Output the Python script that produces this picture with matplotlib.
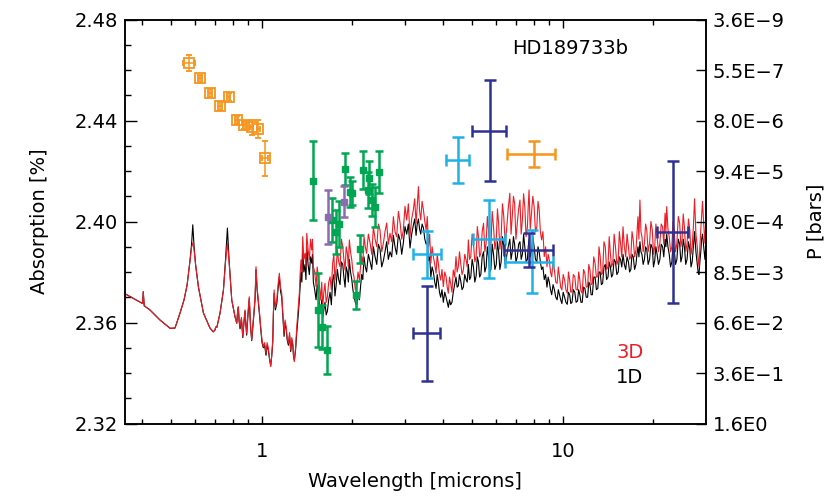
import numpy as np
import matplotlib
matplotlib.use("Agg")
import matplotlib.pyplot as plt
from matplotlib.ticker import NullFormatter

# model transmission spectra: wavelength [microns], absorption [%]
lam = [0.350, 0.374, 0.394, 0.402, 0.404, 0.407, 0.425, 0.459, 0.496, 0.515,
       0.535, 0.552, 0.565, 0.578, 0.585, 0.590, 0.596, 0.603, 0.616, 0.640,
       0.673, 0.690, 0.699, 0.703, 0.709, 0.727, 0.746, 0.758, 0.769, 0.779,
       0.795, 0.815, 0.826,
       0.831, 0.836, 0.841, 0.847, 0.856, 0.865, 0.872, 0.880, 0.885, 0.891,
       0.900, 0.909, 0.917, 0.926, 0.934, 0.943, 0.950, 0.957, 0.965, 0.974,
       0.983, 0.992, 1.002, 1.012, 1.022, 1.033, 1.042, 1.052, 1.061, 1.071,
       1.079, 1.088, 1.093, 1.099, 1.110, 1.122, 1.133, 1.144, 1.154, 1.165,
       1.175, 1.186, 1.195, 1.205, 1.215, 1.226, 1.237, 1.248, 1.258, 1.268,
       1.275, 1.283, 1.295, 1.307, 1.320, 1.333,
       1.341, 1.350, 1.359, 1.368, 1.380, 1.393, 1.402, 1.411, 1.425, 1.439,
       1.452, 1.465, 1.474, 1.484, 1.499, 1.515, 1.528, 1.542, 1.556, 1.570,
       1.582, 1.594, 1.608, 1.622, 1.637, 1.652, 1.669, 1.686, 1.703, 1.720,
       1.735, 1.751, 1.767, 1.783, 1.801, 1.820, 1.839, 1.858, 1.874, 1.891,
       1.908, 1.925, 1.939, 1.954, 1.972, 1.991, 2.008, 2.025, 2.045, 2.066,
       2.088, 2.110, 2.128, 2.147, 2.166, 2.186, 2.208, 2.230, 2.260, 2.291,
       2.320, 2.349, 2.379, 2.410, 2.440, 2.471, 2.503, 2.535, 2.567, 2.600,
       2.633, 2.667, 2.702, 2.737, 2.771, 2.806, 2.844, 2.882, 2.917,
       2.953, 2.991, 3.030, 3.069, 3.108, 3.148, 3.188, 3.221, 3.255, 3.284,
       3.314, 3.344, 3.374, 3.409, 3.444, 3.480, 3.516, 3.547, 3.579, 3.612,
       3.645, 3.680, 3.716, 3.755, 3.794, 3.826, 3.859, 3.894, 3.929, 3.969,
       4.010, 4.053, 4.096, 4.131, 4.167, 4.204, 4.241, 4.284, 4.327, 4.372,
       4.418, 4.457, 4.497, 4.538, 4.580, 4.627, 4.674, 4.723, 4.772, 4.814,
       4.857, 4.902, 4.947, 4.998, 5.049, 5.102, 5.155, 5.200, 5.245, 5.293,
       5.342, 5.398, 5.454, 5.509, 5.564, 5.614, 5.665, 5.717, 5.769, 5.828,
       5.887, 5.949, 6.012, 6.066, 6.121, 6.180, 6.239, 6.303, 6.368, 6.435,
       6.503, 6.586, 6.669, 6.731, 6.794, 6.855, 6.917, 6.988, 7.060, 7.133,
       7.206, 7.273, 7.341, 7.409, 7.477, 7.552, 7.628, 7.676, 7.724, 7.797,
       7.870, 7.950, 8.030, 8.114, 8.199, 8.272, 8.346, 8.424, 8.503, 8.590,
       8.677, 8.768, 8.860, 8.940, 9.020, 9.103, 9.186, 9.282, 9.378, 9.477,
       9.576, 9.663, 9.751, 9.840, 9.930, 10.03, 10.14, 10.24, 10.35, 10.44,
       10.54, 10.63, 10.73, 10.84, 10.96, 11.07, 11.19, 11.29, 11.39, 11.49,
       11.60, 11.72, 11.84, 11.96, 12.09, 12.20, 12.31, 12.42, 12.54, 12.67,
       12.80, 12.93, 13.07, 13.19, 13.31, 13.43, 13.56, 13.70, 13.84, 13.98,
       14.13, 14.26, 14.39, 14.52, 14.66, 14.81, 14.96, 15.12, 15.28, 15.41,
       15.55, 15.70, 15.85, 16.01, 16.18, 16.35, 16.52, 16.67, 16.83, 16.98,
       17.14, 17.32, 17.50, 17.63, 17.77, 17.90, 18.04, 18.18, 18.32, 18.49,
       18.67, 18.84, 19.01, 19.21, 19.42, 19.62, 19.83, 20.01, 20.20, 20.38,
       20.57, 20.79, 21.01, 21.23, 21.45, 21.65, 21.86, 22.00, 22.14, 22.35,
       22.57, 22.80, 23.03, 23.24, 23.45, 23.69, 23.93, 24.19, 24.45, 24.67,
       24.89, 25.12, 25.35, 25.61, 25.87, 26.14, 26.42, 26.66, 26.90, 27.15,
       27.40, 27.68, 27.97, 28.15, 28.34, 28.53, 28.73, 28.92, 29.11, 29.38,
       29.65, 29.80, 29.95]

abs_3d = [2.3715, 2.3696, 2.3681, 2.3675, 2.3722, 2.3666, 2.3650, 2.3610, 2.3577, 2.3578,
          2.3637, 2.3690, 2.3749, 2.3848, 2.3900, 2.3915, 2.3887, 2.3828, 2.3741, 2.3638,
          2.3578, 2.3563, 2.3570, 2.3582, 2.3580, 2.3638, 2.3729, 2.3839, 2.3915, 2.3839,
          2.3689, 2.3623, 2.3597,
          2.3640, 2.3663, 2.3610, 2.3583, 2.3620, 2.3544, 2.3600, 2.3650, 2.3600, 2.3557,
          2.3640, 2.3702, 2.3600, 2.3531, 2.3590, 2.3650, 2.3700, 2.3821, 2.3740, 2.3689,
          2.3640, 2.3583, 2.3530, 2.3504, 2.3520, 2.3478, 2.3520, 2.3498, 2.3460, 2.3425,
          2.3470, 2.3531, 2.3640, 2.3729, 2.3660, 2.3689, 2.3750, 2.3795, 2.3740, 2.3716,
          2.3640, 2.3557, 2.3610, 2.3583, 2.3540, 2.3518, 2.3560, 2.3491, 2.3540, 2.3518,
          2.3470, 2.3445, 2.3500, 2.3583, 2.3650, 2.3716,
          2.3790, 2.3848, 2.3800, 2.3940, 2.3850, 2.3874, 2.3820, 2.3953, 2.3890, 2.3848,
          2.3930, 2.3887, 2.3930, 2.3821, 2.3800, 2.3742, 2.3820, 2.3781, 2.3740, 2.3689,
          2.3760, 2.3663, 2.3720, 2.3755, 2.3680, 2.3702, 2.3760, 2.3781, 2.3730, 2.3834,
          2.3870, 2.3768, 2.3820, 2.3887, 2.3840, 2.3821, 2.3930, 2.3900, 2.3850, 2.3808,
          2.3900, 2.3874, 2.3820, 2.3927, 2.3880, 2.3848, 2.3800, 2.3781, 2.3730, 2.3742,
          2.3800, 2.3768, 2.3820, 2.3861, 2.3830, 2.3940, 2.3900, 2.3874, 2.3950, 2.3914,
          2.3870, 2.3979, 2.3930, 2.3900, 2.3990, 2.3966, 2.3880, 2.3914, 2.3960, 2.3994,
          2.3910, 2.3953, 2.3920, 2.4019, 2.3960, 2.3940, 2.4040, 2.3993, 2.3930,
          2.3966, 2.4060, 2.4006, 2.4070, 2.3940, 2.4010, 2.4046, 2.4090, 2.3993, 2.4060,
          2.4138, 2.4040, 2.4006, 2.4080, 2.4046, 2.4000, 2.3966, 2.4020, 2.3900, 2.3950,
          2.3835, 2.3900, 2.3861, 2.3830, 2.3795, 2.3870, 2.3835, 2.3790, 2.3768, 2.3810,
          2.3742, 2.3800, 2.3781, 2.3740, 2.3716, 2.3780, 2.3755, 2.3720, 2.3808, 2.3780,
          2.3861, 2.3800, 2.3821, 2.3880, 2.3835, 2.3790, 2.3808, 2.3870, 2.3848, 2.3820,
          2.3927, 2.3850, 2.3861, 2.3950, 2.3914, 2.3840, 2.3861, 2.3980, 2.3940, 2.3860,
          2.3874, 2.3960, 2.3993, 2.3880, 2.3914, 2.4020, 2.3966, 2.3870, 2.3900, 2.4040,
          2.3979, 2.3890, 2.3927, 2.4050, 2.3993, 2.3890, 2.3940, 2.4070, 2.4019, 2.3910,
          2.3966, 2.4050, 2.4112, 2.3950, 2.4019, 2.4100, 2.4072, 2.3930, 2.3993, 2.4050,
          2.4085, 2.3950, 2.4006, 2.4110, 2.4059, 2.3940, 2.3979, 2.4060, 2.4125, 2.3970,
          2.4033, 2.4100, 2.4059, 2.3960, 2.3979, 2.4080, 2.4046, 2.3960, 2.3927, 2.3960,
          2.3861, 2.3900, 2.3821, 2.3870, 2.3848, 2.3800, 2.3781, 2.3840, 2.3808, 2.3760,
          2.3755, 2.3820, 2.3781, 2.3740, 2.3729, 2.3790, 2.3768, 2.3730, 2.3716, 2.3800,
          2.3768, 2.3720, 2.3722, 2.3790, 2.3781, 2.3730, 2.3729, 2.3800, 2.3768, 2.3725,
          2.3716, 2.3810, 2.3795, 2.3740, 2.3742, 2.3830, 2.3808, 2.3750, 2.3755, 2.3860,
          2.3835, 2.3780, 2.3781, 2.3900, 2.3861, 2.3790, 2.3795, 2.3920, 2.3900, 2.3810,
          2.3821, 2.3940, 2.3874, 2.3820, 2.3835, 2.3950, 2.3900, 2.3830, 2.3848, 2.3960,
          2.3914, 2.3860, 2.3979, 2.3900, 2.3861, 2.3950, 2.3900, 2.3850, 2.3861, 2.3960,
          2.3927, 2.3860, 2.3887, 2.3950, 2.4019, 2.3930, 2.4085, 2.3960, 2.3940, 2.3880,
          2.3914, 2.3990, 2.3966, 2.3880, 2.3914, 2.4000, 2.3966, 2.3870, 2.3900, 2.3990,
          2.3940, 2.3880, 2.3914, 2.3990, 2.3979, 2.3910, 2.4033, 2.3960, 2.4059, 2.3970,
          2.3940, 2.3880, 2.3900, 2.4000, 2.3966, 2.3880, 2.3914, 2.4020, 2.3993, 2.3900,
          2.3927, 2.4030, 2.3979, 2.3880, 2.3914, 2.4010, 2.3966, 2.3870, 2.3900, 2.3980,
          2.4090, 2.3950, 2.3900, 2.3850, 2.3821, 2.3900, 2.3966, 2.4020, 2.4080, 2.3990,
          2.3914, 2.3980, 2.3960]

abs_1d = [2.3715, 2.3696, 2.3681, 2.3675, 2.3722, 2.3666, 2.3650, 2.3610, 2.3577, 2.3578,
          2.3637, 2.3690, 2.3749, 2.3848, 2.3915, 2.3987, 2.3900, 2.3828, 2.3741, 2.3638,
          2.3578, 2.3563, 2.3570, 2.3582, 2.3580, 2.3638, 2.3729, 2.3850, 2.3974, 2.3845,
          2.3689, 2.3623, 2.3597,
          2.3640, 2.3660, 2.3605, 2.3575, 2.3615, 2.3540, 2.3595, 2.3645, 2.3595, 2.3550,
          2.3630, 2.3695, 2.3590, 2.3528, 2.3580, 2.3640, 2.3690, 2.3810, 2.3730, 2.3680,
          2.3630, 2.3575, 2.3520, 2.3500, 2.3510, 2.3470, 2.3510, 2.3490, 2.3455, 2.3430,
          2.3465, 2.3525, 2.3630, 2.3715, 2.3650, 2.3675, 2.3735, 2.3780, 2.3725, 2.3700,
          2.3625, 2.3545, 2.3600, 2.3575, 2.3530, 2.3510, 2.3550, 2.3485, 2.3530, 2.3510,
          2.3465, 2.3450, 2.3490, 2.3560, 2.3620, 2.3690,
          2.3740, 2.3800, 2.3760, 2.3885, 2.3800, 2.3830, 2.3770, 2.3900, 2.3830, 2.3790,
          2.3860, 2.3835, 2.3870, 2.3760, 2.3730, 2.3690, 2.3750, 2.3715, 2.3670, 2.3635,
          2.3690, 2.3620, 2.3650, 2.3680, 2.3630, 2.3645, 2.3690, 2.3720, 2.3670, 2.3770,
          2.3790, 2.3705, 2.3750, 2.3810, 2.3770, 2.3750, 2.3840, 2.3830, 2.3780, 2.3740,
          2.3820, 2.3800, 2.3760, 2.3850, 2.3800, 2.3770, 2.3730, 2.3705, 2.3680, 2.3665,
          2.3710, 2.3690, 2.3740, 2.3790, 2.3770, 2.3860, 2.3820, 2.3800, 2.3870, 2.3840,
          2.3810, 2.3900, 2.3860, 2.3830, 2.3910, 2.3890, 2.3820, 2.3845, 2.3880, 2.3920,
          2.3850, 2.3880, 2.3860, 2.3945, 2.3900, 2.3870, 2.3950, 2.3925, 2.3870,
          2.3915, 2.3980, 2.3950, 2.3990, 2.3895, 2.3950, 2.3985, 2.4010, 2.3945, 2.3990,
          2.4010, 2.3970, 2.3950, 2.3990, 2.3975, 2.3930, 2.3910, 2.3920, 2.3845, 2.3860,
          2.3780, 2.3820, 2.3800, 2.3760, 2.3735, 2.3790, 2.3760, 2.3720, 2.3700, 2.3730,
          2.3680, 2.3720, 2.3700, 2.3680, 2.3660, 2.3690, 2.3670, 2.3680, 2.3720, 2.3750,
          2.3780, 2.3740, 2.3745, 2.3790, 2.3765, 2.3730, 2.3740, 2.3790, 2.3770, 2.3760,
          2.3830, 2.3770, 2.3780, 2.3850, 2.3820, 2.3760, 2.3785, 2.3860, 2.3840, 2.3780,
          2.3790, 2.3860, 2.3880, 2.3800, 2.3820, 2.3900, 2.3860, 2.3800, 2.3810, 2.3910,
          2.3870, 2.3810, 2.3830, 2.3920, 2.3880, 2.3810, 2.3840, 2.3940, 2.3900, 2.3830,
          2.3860, 2.3900, 2.3930, 2.3850, 2.3880, 2.3940, 2.3910, 2.3840, 2.3860, 2.3910,
          2.3920, 2.3850, 2.3870, 2.3950, 2.3900, 2.3840, 2.3850, 2.3900, 2.3930, 2.3860,
          2.3880, 2.3940, 2.3900, 2.3850, 2.3840, 2.3900, 2.3880, 2.3840, 2.3810, 2.3820,
          2.3770, 2.3790, 2.3740, 2.3780, 2.3760, 2.3730, 2.3710, 2.3750, 2.3730, 2.3700,
          2.3690, 2.3730, 2.3710, 2.3690, 2.3675, 2.3720, 2.3700, 2.3680, 2.3672, 2.3720,
          2.3710, 2.3675, 2.3680, 2.3730, 2.3720, 2.3680, 2.3685, 2.3730, 2.3710, 2.3680,
          2.3680, 2.3740, 2.3735, 2.3700, 2.3700, 2.3760, 2.3750, 2.3710, 2.3710, 2.3780,
          2.3780, 2.3730, 2.3735, 2.3800, 2.3800, 2.3750, 2.3755, 2.3820, 2.3830, 2.3770,
          2.3780, 2.3840, 2.3820, 2.3780, 2.3790, 2.3850, 2.3840, 2.3790, 2.3800, 2.3860,
          2.3850, 2.3820, 2.3870, 2.3830, 2.3810, 2.3860, 2.3840, 2.3800, 2.3810, 2.3870,
          2.3860, 2.3810, 2.3830, 2.3870, 2.3900, 2.3860, 2.3920, 2.3880, 2.3870, 2.3830,
          2.3850, 2.3900, 2.3890, 2.3830, 2.3850, 2.3910, 2.3895, 2.3820, 2.3845, 2.3900,
          2.3870, 2.3830, 2.3850, 2.3910, 2.3900, 2.3860, 2.3930, 2.3900, 2.3950, 2.3900,
          2.3870, 2.3820, 2.3840, 2.3910, 2.3890, 2.3830, 2.3850, 2.3930, 2.3910, 2.3840,
          2.3860, 2.3930, 2.3900, 2.3830, 2.3850, 2.3920, 2.3890, 2.3820, 2.3840, 2.3900,
          2.3960, 2.3880, 2.3830, 2.3800, 2.3790, 2.3840, 2.3880, 2.3930, 2.3950, 2.3900,
          2.3850, 2.3890, 2.3905]

# optical points (orange squares)
opt_x = [0.575, 0.625, 0.675, 0.725, 0.777, 0.826, 0.875, 0.926, 0.974, 1.025]
opt_y = [2.4627, 2.4567, 2.4508, 2.4457, 2.4492, 2.4402, 2.4382, 2.4373, 2.4365, 2.4250]
opt_yerr = [0.0032, 0.0015, 0.0015, 0.0015, 0.0015, 0.0015, 0.0015, 0.0030, 0.0036, 0.0069]
opt_xerr = [0.026, 0.010, 0.010, 0.010, 0.010, 0.010, 0.010, 0.010, 0.010, 0.024]

# mid-IR orange point
irs_x = [8.03]
irs_y = [2.4267]
irs_yerr = [0.0051]
irs_lo = [6.53]
irs_hi = [9.43]

# near-IR (green)
nir_x = [1.484, 1.535, 1.582, 1.644, 1.713, 1.760, 1.800, 1.891, 1.965, 2.000,
         2.058, 2.121, 2.176, 2.250, 2.278, 2.320, 2.379, 2.459]
nir_y = [2.4162, 2.3650, 2.3584, 2.3491, 2.4006, 2.3958, 2.3990, 2.4207, 2.4118, 2.4112,
         2.3709, 2.3891, 2.4204, 2.4125, 2.4174, 2.4085, 2.4059, 2.4197]
nir_yerr = [0.0155, 0.0147, 0.0087, 0.0095, 0.0087, 0.0087, 0.0090, 0.0063, 0.0060, 0.0048,
            0.0055, 0.0055, 0.0074, 0.0070, 0.0067, 0.0063, 0.0079, 0.0083]

# purple
pur_x = [1.665, 1.881]
pur_y = [2.4017, 2.4078]
pur_yerr = [0.0107, 0.0061]

# light blue
cy_x = [3.55, 4.49, 5.70, 7.89]
cy_y = [2.3871, 2.4244, 2.3931, 2.3841]
cy_yerr = [0.0093, 0.0091, 0.0154, 0.0125]
cy_lo = [3.17, 4.10, 5.02, 6.43]
cy_hi = [3.93, 4.88, 6.43, 9.30]

# dark blue
nv_x = [3.53, 5.72, 7.75, 23.3]
nv_y = [2.3557, 2.4360, 2.3887, 2.3960]
nv_yerr = [0.0189, 0.0201, 0.0069, 0.0281]
nv_lo = [3.18, 5.00, 6.40, 20.6]
nv_hi = [3.92, 6.46, 9.31, 26.1]

p_ticks = [2.32, 2.34, 2.36, 2.38, 2.40, 2.42, 2.44, 2.46, 2.48]
p_labels = ["1.6E0", "3.6E\u22121", "6.6E\u22122", "8.5E\u22123", "9.0E\u22124",
            "9.4E\u22125", "8.0E\u22126", "5.5E\u22127", "3.6E\u22129"]

plt.rcParams["font.family"] = "DejaVu Sans"
plt.rcParams["font.size"] = 14

fig = plt.figure(figsize=(8.3, 4.99), dpi=100)
ax = fig.add_axes([0.150, 0.1513, 0.7006, 0.8096])

ax.plot(lam, abs_1d, color="black", lw=0.8)
ax.plot(lam, abs_3d, color="#ee1c25", lw=0.8)

ax.errorbar(opt_x, opt_y, yerr=opt_yerr, xerr=opt_xerr, fmt="s", ms=6.5, mfc="none",
            mec="#f7941d", mew=1.3, color="#f7941d", elinewidth=1.1, capsize=2.5, capthick=1.1)
irs_x = np.array(irs_x)
ax.errorbar(irs_x, irs_y, yerr=irs_yerr, xerr=[irs_x - np.array(irs_lo), np.array(irs_hi) - irs_x],
            fmt="none", color="#f7941d", elinewidth=1.8, capsize=4, capthick=1.8)
ax.errorbar(nir_x, nir_y, yerr=nir_yerr, fmt="s", ms=4, color="#00a651",
            elinewidth=1.8, capsize=3, capthick=1.8)
ax.errorbar(pur_x, pur_y, yerr=pur_yerr, fmt="s", ms=4, color="#8c6bb1",
            elinewidth=1.8, capsize=3, capthick=1.8)
cy_x = np.array(cy_x)
ax.errorbar(cy_x, cy_y, yerr=cy_yerr, xerr=[cy_x - np.array(cy_lo), np.array(cy_hi) - cy_x],
            fmt="none", color="#1fb1e6", elinewidth=1.8, capsize=4, capthick=1.8)
nv_x = np.array(nv_x)
ax.errorbar(nv_x, nv_y, yerr=nv_yerr, xerr=[nv_x - np.array(nv_lo), np.array(nv_hi) - nv_x],
            fmt="none", color="#2e3192", elinewidth=1.8, capsize=4, capthick=1.8)

ax.set_xscale("log")
ax.set_xlim(0.35, 29.9)
ax.set_ylim(2.32, 2.48)
ax.set_xticks([1, 10])
ax.set_xticklabels(["1", "10"])
ax.set_xticks([0.4, 0.5, 0.6, 0.7, 0.8, 0.9, 2, 3, 4, 5, 6, 7, 8, 9, 20], minor=True)
ax.xaxis.set_minor_formatter(NullFormatter())
ax.set_yticks([2.32, 2.36, 2.40, 2.44, 2.48])
ax.set_yticklabels(["2.32", "2.36", "2.40", "2.44", "2.48"])
ax.set_yticks(np.arange(2.32, 2.481, 0.01), minor=True)
ax.tick_params(which="both", direction="in", top=True, right=False, width=1)
ax.tick_params(axis="x", which="major", length=6, pad=13)
ax.tick_params(axis="x", which="minor", length=3.6)
ax.tick_params(axis="y", which="major", length=8.5, pad=5)
ax.tick_params(axis="y", which="minor", length=4.3)
for s in ax.spines.values():
    s.set_linewidth(1.1)

ax.set_xlabel("Wavelength [microns]", labelpad=8)
ax.set_ylabel("Absorption [%]", labelpad=18)

ax2 = ax.twinx()
ax2.set_ylim(2.32, 2.48)
ax2.set_yticks(p_ticks)
ax2.set_yticklabels(p_labels)
ax2.tick_params(axis="y", direction="in", length=7, width=1, pad=5)
ax2.set_ylabel("P [bars]", labelpad=15)
for s in ax2.spines.values():
    s.set_linewidth(1.1)

ax.text(0.766, 0.929, "HD189733b", transform=ax.transAxes, ha="center", va="center")
ax.text(0.869, 0.175, "3D", transform=ax.transAxes, ha="center", va="center", color="#ee1c25")
ax.text(0.869, 0.113, "1D", transform=ax.transAxes, ha="center", va="center", color="black")

fig.savefig("out.png", dpi=100)
